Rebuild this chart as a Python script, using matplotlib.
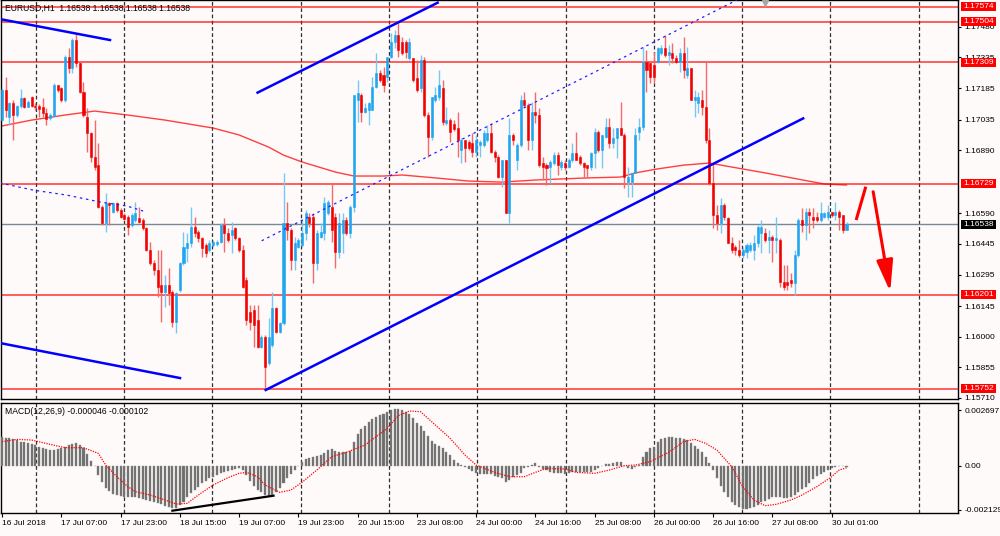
import matplotlib
matplotlib.use('Agg')
import matplotlib.pyplot as plt
import matplotlib.transforms as mtransforms
from matplotlib.patches import Rectangle
import numpy as np

plt.rcParams['font.family'] = ['Liberation Sans', 'DejaVu Sans']

# EURUSD H1 candles, one per bar (bar 0 = 16 Jul 2018)
opens = [1.17034, 1.17177, 1.17049, 1.17115, 1.17058, 1.17101, 1.17139, 1.17096, 1.17144, 1.17101,
         1.17101, 1.17096, 1.17068, 1.17044, 1.17053, 1.17201, 1.17187, 1.17130, 1.17335, 1.17282,
         1.17416, 1.17306, 1.17168, 1.17049, 1.16972, 1.16858, 1.16819, 1.16619, 1.16543, 1.16638,
         1.16595, 1.16638, 1.16605, 1.16581, 1.16572, 1.16533, 1.16557, 1.16567, 1.16557, 1.16519,
         1.16414, 1.16352, 1.16318, 1.16247, 1.16213, 1.16247, 1.16213, 1.16070, 1.16223, 1.16352,
         1.16423, 1.16447, 1.16524, 1.16500, 1.16471, 1.16438, 1.16414, 1.16438, 1.16442, 1.16452,
         1.16533, 1.16495, 1.16485, 1.16519, 1.16471, 1.16414, 1.16271, 1.16118, 1.16127, 1.16080,
         1.15951, 1.15998, 1.15874, 1.15961, 1.16137, 1.16022, 1.16065, 1.16543, 1.16509, 1.16366,
         1.16428, 1.16438, 1.16495, 1.16572, 1.16572, 1.16352, 1.16476, 1.16495, 1.16590, 1.16619,
         1.16572, 1.16404, 1.16495, 1.16557, 1.16495, 1.16619, 1.17130, 1.17154, 1.17072, 1.17082,
         1.17082, 1.17192, 1.17259, 1.17249, 1.17240, 1.17335, 1.17406, 1.17440, 1.17407, 1.17407,
         1.17330, 1.17330, 1.17235, 1.17187, 1.17321, 1.17058, 1.16953, 1.17130, 1.17144, 1.17187,
         1.17020, 1.17034, 1.17015, 1.16996, 1.16891, 1.16939, 1.16929, 1.16924, 1.16882, 1.16915,
         1.16915, 1.16939, 1.16972, 1.16882, 1.16858, 1.16762, 1.16843, 1.16590, 1.16963, 1.16843,
         1.16915, 1.17130, 1.17106, 1.16939, 1.17072, 1.17058, 1.16829, 1.16819, 1.16810, 1.16829,
         1.16867, 1.16810, 1.16829, 1.16810, 1.16843, 1.16877, 1.16858, 1.16829, 1.16819, 1.16810,
         1.16877, 1.16977, 1.16891, 1.16953, 1.17001, 1.16924, 1.16948, 1.16996, 1.16963, 1.16738,
         1.16738, 1.16782, 1.16977, 1.17001, 1.17311, 1.17306, 1.17297, 1.17311, 1.17354, 1.17378,
         1.17345, 1.17354, 1.17330, 1.17311, 1.17354, 1.17249, 1.17282, 1.17130, 1.17115, 1.17130,
         1.17096, 1.16939, 1.16734, 1.16581, 1.16543, 1.16629, 1.16567, 1.16447, 1.16428, 1.16414,
         1.16390, 1.16404, 1.16414, 1.16414, 1.16447, 1.16495, 1.16495, 1.16462, 1.16476, 1.16462,
         1.16462, 1.16261, 1.16261, 1.16271, 1.16256, 1.16390, 1.16557, 1.16533, 1.16595, 1.16572,
         1.16572, 1.16557, 1.16572, 1.16572, 1.16595, 1.16581, 1.16595, 1.16581, 1.16509]
highs = [1.17187, 1.17240, 1.17120, 1.17130, 1.17106, 1.17182, 1.17144, 1.17130, 1.17149, 1.17115,
         1.17110, 1.17139, 1.17092, 1.17068, 1.17211, 1.17201, 1.17192, 1.17345, 1.17378, 1.17426,
         1.17450, 1.17311, 1.17216, 1.17092, 1.16977, 1.17034, 1.16924, 1.16629, 1.16686, 1.16643,
         1.16643, 1.16643, 1.16614, 1.16590, 1.16581, 1.16590, 1.16643, 1.16619, 1.16567, 1.16524,
         1.16452, 1.16366, 1.16414, 1.16414, 1.16294, 1.16328, 1.16223, 1.16213, 1.16356, 1.16500,
         1.16495, 1.16619, 1.16572, 1.16509, 1.16476, 1.16447, 1.16462, 1.16462, 1.16462, 1.16543,
         1.16567, 1.16519, 1.16548, 1.16524, 1.16476, 1.16438, 1.16285, 1.16151, 1.16151, 1.16151,
         1.16008, 1.16008, 1.16089, 1.16213, 1.16142, 1.16070, 1.16782, 1.16643, 1.16519, 1.16476,
         1.16471, 1.16557, 1.16605, 1.16590, 1.16590, 1.16509, 1.16543, 1.16667, 1.16652, 1.16734,
         1.16590, 1.16590, 1.16590, 1.16572, 1.16629, 1.17154, 1.17225, 1.17163, 1.17115, 1.17120,
         1.17240, 1.17354, 1.17273, 1.17287, 1.17335, 1.17450, 1.17464, 1.17507, 1.17430, 1.17416,
         1.17426, 1.17330, 1.17321, 1.17345, 1.17335, 1.17072, 1.17144, 1.17192, 1.17273, 1.17225,
         1.17096, 1.17044, 1.17034, 1.17072, 1.16948, 1.16939, 1.16939, 1.16972, 1.16963, 1.16939,
         1.16987, 1.17010, 1.17020, 1.16891, 1.16867, 1.16843, 1.16843, 1.17044, 1.16972, 1.16924,
         1.17154, 1.17168, 1.17115, 1.17120, 1.17168, 1.17092, 1.16858, 1.16829, 1.16843, 1.16882,
         1.16882, 1.16843, 1.16843, 1.16853, 1.16924, 1.16977, 1.16867, 1.16834, 1.16819, 1.16882,
         1.16996, 1.16987, 1.16963, 1.17044, 1.17044, 1.16996, 1.16996, 1.17120, 1.16972, 1.16810,
         1.16782, 1.16996, 1.17044, 1.17383, 1.17368, 1.17311, 1.17359, 1.17383, 1.17393, 1.17440,
         1.17393, 1.17402, 1.17345, 1.17378, 1.17430, 1.17383, 1.17282, 1.17177, 1.17168, 1.17177,
         1.17311, 1.16996, 1.16829, 1.16629, 1.16662, 1.16638, 1.16572, 1.16476, 1.16438, 1.16462,
         1.16428, 1.16447, 1.16452, 1.16485, 1.16533, 1.16557, 1.16519, 1.16509, 1.16485, 1.16572,
         1.16471, 1.16342, 1.16342, 1.16304, 1.16414, 1.16567, 1.16614, 1.16614, 1.16614, 1.16614,
         1.16595, 1.16643, 1.16595, 1.16629, 1.16595, 1.16643, 1.16605, 1.16581, 1.16548]
lows = [1.17034, 1.17049, 1.17010, 1.16939, 1.17049, 1.17092, 1.17092, 1.17096, 1.17096, 1.17082,
        1.17049, 1.17049, 1.17010, 1.17034, 1.17049, 1.17168, 1.17120, 1.17120, 1.17259, 1.17259,
        1.17287, 1.17163, 1.17049, 1.16882, 1.16834, 1.16796, 1.16614, 1.16533, 1.16500, 1.16533,
        1.16590, 1.16595, 1.16567, 1.16557, 1.16485, 1.16524, 1.16548, 1.16543, 1.16509, 1.16409,
        1.16342, 1.16294, 1.16189, 1.16070, 1.16141, 1.16151, 1.16046, 1.16017, 1.16213, 1.16342,
        1.16356, 1.16428, 1.16476, 1.16452, 1.16380, 1.16380, 1.16404, 1.16428, 1.16433, 1.16447,
        1.16404, 1.16452, 1.16399, 1.16462, 1.16404, 1.16232, 1.16056, 1.16032, 1.15951, 1.15946,
        1.15946, 1.15750, 1.15865, 1.15951, 1.16017, 1.16017, 1.16056, 1.16462, 1.16318, 1.16318,
        1.16423, 1.16428, 1.16462, 1.16524, 1.16256, 1.16318, 1.16471, 1.16462, 1.16581, 1.16452,
        1.16328, 1.16376, 1.16399, 1.16485, 1.16471, 1.16595, 1.17025, 1.17025, 1.17068, 1.17010,
        1.17082, 1.17187, 1.17216, 1.17168, 1.17216, 1.17330, 1.17378, 1.17335, 1.17345, 1.17330,
        1.17321, 1.17216, 1.17168, 1.17168, 1.17049, 1.16858, 1.16939, 1.17120, 1.17130, 1.17010,
        1.17010, 1.16929, 1.16982, 1.16858, 1.16829, 1.16834, 1.16891, 1.16858, 1.16858, 1.16858,
        1.16905, 1.16929, 1.16877, 1.16834, 1.16758, 1.16715, 1.16590, 1.16543, 1.16915, 1.16796,
        1.16905, 1.17096, 1.16891, 1.16891, 1.17020, 1.16810, 1.16748, 1.16724, 1.16734, 1.16819,
        1.16772, 1.16796, 1.16796, 1.16805, 1.16834, 1.16843, 1.16819, 1.16758, 1.16758, 1.16796,
        1.16805, 1.16882, 1.16805, 1.16948, 1.16901, 1.16901, 1.16853, 1.16963, 1.16710, 1.16667,
        1.16667, 1.16782, 1.16939, 1.16987, 1.17168, 1.17211, 1.17211, 1.17306, 1.17345, 1.17335,
        1.17297, 1.17306, 1.17306, 1.17264, 1.17235, 1.17235, 1.17130, 1.17049, 1.17068, 1.17058,
        1.16924, 1.16724, 1.16519, 1.16509, 1.16495, 1.16557, 1.16447, 1.16399, 1.16390, 1.16380,
        1.16376, 1.16376, 1.16404, 1.16366, 1.16428, 1.16399, 1.16452, 1.16399, 1.16356, 1.16399,
        1.16237, 1.16223, 1.16223, 1.16237, 1.16199, 1.16380, 1.16500, 1.16462, 1.16495, 1.16519,
        1.16548, 1.16548, 1.16567, 1.16557, 1.16572, 1.16557, 1.16509, 1.16495, 1.16509]
closes = [1.17177, 1.17082, 1.17115, 1.17058, 1.17101, 1.17139, 1.17096, 1.17120, 1.17101, 1.17096,
          1.17087, 1.17068, 1.17039, 1.17058, 1.17201, 1.17177, 1.17130, 1.17335, 1.17282, 1.17416,
          1.17306, 1.17168, 1.17058, 1.16972, 1.16858, 1.16810, 1.16619, 1.16543, 1.16638, 1.16629,
          1.16638, 1.16605, 1.16572, 1.16562, 1.16524, 1.16581, 1.16590, 1.16548, 1.16519, 1.16414,
          1.16352, 1.16318, 1.16237, 1.16213, 1.16247, 1.16209, 1.16070, 1.16209, 1.16352, 1.16428,
          1.16447, 1.16524, 1.16495, 1.16471, 1.16423, 1.16399, 1.16447, 1.16452, 1.16452, 1.16533,
          1.16495, 1.16462, 1.16509, 1.16471, 1.16414, 1.16237, 1.16080, 1.16070, 1.16056, 1.15951,
          1.15998, 1.15855, 1.15998, 1.16137, 1.16022, 1.16065, 1.16543, 1.16509, 1.16366, 1.16447,
          1.16462, 1.16495, 1.16590, 1.16543, 1.16352, 1.16495, 1.16500, 1.16638, 1.16643, 1.16509,
          1.16404, 1.16543, 1.16557, 1.16495, 1.16619, 1.17154, 1.17163, 1.17072, 1.17092, 1.17115,
          1.17192, 1.17259, 1.17225, 1.17201, 1.17335, 1.17406, 1.17440, 1.17368, 1.17354, 1.17359,
          1.17407, 1.17225, 1.17177, 1.17321, 1.17058, 1.16953, 1.17144, 1.17154, 1.17201, 1.17025,
          1.17034, 1.16977, 1.16991, 1.16939, 1.16939, 1.16900, 1.16900, 1.16882, 1.16939, 1.16929,
          1.16972, 1.16972, 1.16882, 1.16858, 1.16762, 1.16843, 1.16590, 1.16963, 1.16939, 1.16915,
          1.17130, 1.17106, 1.16939, 1.17072, 1.17058, 1.16819, 1.16810, 1.16805, 1.16834, 1.16867,
          1.16819, 1.16834, 1.16810, 1.16843, 1.16877, 1.16843, 1.16829, 1.16810, 1.16805, 1.16877,
          1.16977, 1.16891, 1.16963, 1.17001, 1.16924, 1.16948, 1.16996, 1.16963, 1.16762, 1.16762,
          1.16782, 1.16963, 1.17001, 1.17311, 1.17273, 1.17240, 1.17240, 1.17378, 1.17378, 1.17345,
          1.17359, 1.17330, 1.17311, 1.17354, 1.17273, 1.17282, 1.17130, 1.17144, 1.17144, 1.17096,
          1.16939, 1.16734, 1.16581, 1.16543, 1.16629, 1.16572, 1.16447, 1.16414, 1.16414, 1.16390,
          1.16414, 1.16438, 1.16438, 1.16447, 1.16524, 1.16524, 1.16462, 1.16476, 1.16462, 1.16471,
          1.16261, 1.16237, 1.16247, 1.16256, 1.16390, 1.16557, 1.16533, 1.16595, 1.16581, 1.16557,
          1.16557, 1.16590, 1.16590, 1.16595, 1.16581, 1.16595, 1.16572, 1.16509, 1.16538]

# moving average (red line) sampled along the chart
ma_bars = [0, 8, 17, 25, 34, 44, 57, 64, 72, 76, 81, 90, 95, 103, 108, 117, 126, 135, 144, 158,
           167, 171, 177, 184, 191, 197, 206, 215, 222, 228]
ma_vals = [1.17006, 1.17034, 1.17058, 1.17077, 1.17058, 1.17034, 1.16996, 1.16963, 1.16905, 1.16867,
           1.16834, 1.16786, 1.16767, 1.16767, 1.16772, 1.16758, 1.16743, 1.16738, 1.16748, 1.16758,
           1.16762, 1.16782, 1.16801, 1.16819, 1.16829, 1.16810, 1.16782, 1.16752, 1.16729, 1.16724]

# MACD(12,26,9) main histogram, one per bar
macd_main = [0.001404, 0.001356, 0.001323, 0.001275, 0.001227, 0.001162, 0.001130, 0.001081, 0.001033, 0.001001,
             0.000920, 0.000872, 0.000807, 0.000759, 0.000759, 0.000807, 0.000839, 0.000920, 0.001001, 0.001049,
             0.001081, 0.001001, 0.000839, 0.000549, 0.000226, 0.0, -0.000452, -0.000807, -0.001065, -0.001227,
             -0.001356, -0.001420, -0.001469, -0.001517, -0.001501, -0.001501, -0.001517, -0.001549, -0.001614, -0.001679,
             -0.001711, -0.001743, -0.001824, -0.001872, -0.001937, -0.001985, -0.002034, -0.002034, -0.001905, -0.001743,
             -0.001501, -0.001340, -0.001178, -0.001017, -0.000855, -0.000742, -0.000613, -0.000533, -0.000452, -0.000371,
             -0.000323, -0.000258, -0.000194, -0.000161, -0.000129, -0.000194, -0.000452, -0.000742, -0.000968, -0.001162,
             -0.001291, -0.001420, -0.001453, -0.001420, -0.001291, -0.001097, -0.000855, -0.000613, -0.000420, -0.000210,
             -0.000032, 0.000194, 0.000323, 0.000387, 0.000436, 0.000468, 0.000516, 0.000597, 0.000759, 0.000807,
             0.000710, 0.000678, 0.000646, 0.000646, 0.000710, 0.001130, 0.001517, 0.001775, 0.001937, 0.002098,
             0.002260, 0.002356, 0.002437, 0.002486, 0.002582, 0.002679, 0.002728, 0.002744, 0.002679, 0.002615,
             0.002518, 0.002292, 0.002066, 0.001937, 0.001695, 0.001420, 0.001194, 0.001049, 0.000968, 0.000839,
             0.000678, 0.000500, 0.000291, 0.000129, 0.000032, -0.000048, -0.000161, -0.000258, -0.000355, -0.000420,
             -0.000420, -0.000387, -0.000420, -0.000484, -0.000533, -0.000613, -0.000807, -0.000694, -0.000549, -0.000452,
             -0.000355, -0.000129, -0.000048, 0.000032, 0.000113, -0.000048, -0.000161, -0.000226, -0.000323, -0.000371,
             -0.000371, -0.000371, -0.000404, -0.000371, -0.000323, -0.000323, -0.000323, -0.000323, -0.000323, -0.000291,
             -0.000210, -0.000097, 0.0, 0.000065, 0.000097, 0.000129, 0.000194, 0.000161, 0.0, -0.000097,
             -0.000161, -0.000048, 0.000032, 0.000436, 0.000646, 0.000839, 0.000920, 0.001162, 0.001275, 0.001356,
             0.001372, 0.001372, 0.001356, 0.001323, 0.001307, 0.001243, 0.001114, 0.000952, 0.000791, 0.000646,
             0.000420, 0.000113, -0.000210, -0.000613, -0.000968, -0.001291, -0.001533, -0.001743, -0.001905, -0.002018,
             -0.002082, -0.002098, -0.002066, -0.001985, -0.001888, -0.001775, -0.001695, -0.001598, -0.001533, -0.001501,
             -0.001501, -0.001549, -0.001566, -0.001517, -0.001404, -0.001259, -0.001146, -0.001017, -0.000855, -0.000646,
             -0.000500, -0.000387, -0.000291, -0.000194, -0.000097, -0.000048, -0.000016, -0.000016, -0.000046]

# MACD signal line sampled
signal_bars = [0, 4, 8, 13, 17, 22, 26, 28, 31, 34, 36, 40, 44, 47, 50, 53, 57, 61, 64, 66,
               69, 71, 75, 78, 81, 85, 89, 93, 98, 104, 107, 110, 113, 116, 121, 125, 128, 133, 137, 141,
               144, 147, 152, 155, 160, 164, 168, 171, 175, 180, 184, 187, 190, 193, 197, 200, 203, 206, 209, 213,
               216, 220, 224, 226, 228]
signal_vals = [0.001162, 0.001275, 0.001243, 0.001033, 0.000872, 0.000872, 0.000597, 0.000032, -0.000533, -0.001017,
               -0.001259, -0.001420, -0.001662, -0.001856, -0.001824, -0.001420, -0.000936, -0.000581, -0.000371, -0.000323,
               -0.000533, -0.000936, -0.001291, -0.001178, -0.000807, -0.000210, 0.000436, 0.000646, 0.001001, 0.001808,
               0.002421, 0.002647, 0.002615, 0.002130, 0.001323, 0.000516, 0.000032, -0.000323, -0.000533, -0.000533,
               -0.000323, -0.000129, -0.000161, -0.000323, -0.000371, -0.000210, 0.0, 0.000032, 0.000194, 0.000646,
               0.001162, 0.001275, 0.001081, 0.000759, -0.000048, -0.001017, -0.001662, -0.001937, -0.001872, -0.001662,
               -0.001420, -0.001017, -0.000533, -0.000210, -0.000102]

levels = [1.17574, 1.17504, 1.17309, 1.16729, 1.16201, 1.15752]
last_price = 1.16538
price_ticks = [1.17480, 1.17335, 1.17185, 1.17035, 1.16890, 1.16590, 1.16445,
               1.16295, 1.16145, 1.16000, 1.15855, 1.15710]
time_labels = ['16 Jul 2018', '17 Jul 07:00', '17 Jul 23:00', '18 Jul 15:00', '19 Jul 07:00',
               '19 Jul 23:00', '20 Jul 15:00', '23 Jul 08:00', '24 Jul 00:00', '24 Jul 16:00',
               '25 Jul 08:00', '26 Jul 00:00', '26 Jul 16:00', '27 Jul 08:00', '30 Jul 01:00']
macd_ticks = [0.002697, 0.0, -0.002129]
macd_tick_labels = ['0.002697', '0.00', '-0.002129']

BG = '#FFFAFA'
BULL, BULL_W = '#1FA6F0', '#74C8F4'
BEAR, BEAR_W = '#F00000', '#F46A6A'

fig = plt.figure(figsize=(10, 5.36), dpi=100, facecolor=BG)
W, H = 1000.0, 536.0
ax = fig.add_axes([1 / W, 1 - 399 / H, 957 / W, 399 / H], facecolor=BG)
ax2 = fig.add_axes([1 / W, 1 - 513 / H, 957 / W, 110 / H], facecolor=BG)

x = np.arange(len(closes))
o = np.array(opens); h = np.array(highs); l = np.array(lows); c = np.array(closes)
up = c >= o

xlim = (-0.27, 258.1)
for a in (ax, ax2):
    a.set_xlim(*xlim)
    for s in a.spines.values():
        s.set_color('black')
        s.set_linewidth(1)
    # dashed vertical grid
    for gx in np.arange(9.1, 258, 23.84):
        a.axvline(gx, color='#303030', lw=0.9, dashes=(3, 2), zorder=0.5)

ax.set_ylim(1.15703, 1.17607)

# horizontal levels
for lv in levels:
    ax.axhline(lv, color='#FF0000', lw=1.1, alpha=0.8, zorder=1)
ax.axhline(last_price, color='#7A8896', lw=1, zorder=1)

# moving average
ax.plot(ma_bars, ma_vals, color='#FF0000', lw=1, alpha=0.75, zorder=2)

# candles
ax.vlines(x[up], l[up], h[up], color=BULL_W, lw=1, zorder=3)
ax.vlines(x[~up], l[~up], h[~up], color=BEAR_W, lw=1, zorder=3)
ax.bar(x[up], c[up] - o[up], bottom=o[up], width=0.55, color=BULL, edgecolor=BULL, lw=0.4, zorder=4)
ax.bar(x[~up], o[~up] - c[~up], bottom=c[~up], width=0.55, color=BEAR, edgecolor=BEAR, lw=0.4, zorder=4)

# trend lines
ax.plot([-0.54, 29.16], [1.17516, 1.17416], color='#0000FF', lw=1.8, zorder=5)
ax.plot([-0.54, 48.06], [1.15970, 1.15803], color='#0000FF', lw=1.8, zorder=5)
ax.plot([69.0, 117.6], [1.17165, 1.17594], color='#0000FF', lw=1.8, zorder=5)
ax.plot([71.2, 216.3], [1.15746, 1.17042], color='#0000FF', lw=1.8, zorder=5)
ax.plot([70.1, 198.4], [1.16458, 1.17607], color='#2020FF', lw=0.9, dashes=(2, 3), zorder=5)
ax.plot([-0.54, 8.4, 17.5, 26.5, 33.7, 38.1], [1.16734, 1.16700, 1.16676, 1.16643, 1.16624, 1.16600],
        color='#2020FF', lw=0.9, dashes=(2, 3), zorder=5)

# red arrows
ax.plot([230.6, 233.2], [1.16557, 1.16716], color='#FF0000', lw=2.2, solid_capstyle='butt', zorder=6)
ax.annotate('', xy=(239.8, 1.16215), xytext=(235.2, 1.16692),
            arrowprops=dict(arrowstyle='-|>,head_length=1.9,head_width=0.5', color='#FF0000',
                            lw=2.2, shrinkA=0, shrinkB=0), zorder=6)

# right price axis
ax.yaxis.tick_right()
ax.set_yticks(price_ticks)
ax.set_yticklabels(['%.5f' % t for t in price_ticks])
ax.tick_params(axis='y', length=2.5, width=0.8, pad=2, labelsize=6)
ax.set_xticks([])

tr = mtransforms.blended_transform_factory(ax.transAxes, ax.transData)
box_h = 0.00043
for lv in levels:
    ax.add_patch(Rectangle((1.0031, lv - box_h / 2), 0.0366, box_h, transform=tr, clip_on=False,
                           facecolor='#FF0000', edgecolor='none', zorder=10))
    ax.text(1.0214, lv, '%.5f' % lv, transform=tr, color='white', fontsize=6, ha='center',
            va='center', clip_on=False, zorder=11)
ax.add_patch(Rectangle((1.0031, last_price - box_h / 2), 0.0366, box_h, transform=tr, clip_on=False,
                       facecolor='black', edgecolor='none', zorder=10))
ax.text(1.0214, last_price, '%.5f' % last_price, transform=tr, color='white', fontsize=6,
        ha='center', va='center', clip_on=False, zorder=11)

ax.text(0.004, 0.98, 'EURUSD,H1  1.16538 1.16538 1.16538 1.16538', transform=ax.transAxes,
        fontsize=6.2, va='center', ha='left', color='black', zorder=12)

# chart shift marker
ax.plot([206], [0.992], transform=mtransforms.blended_transform_factory(ax.transData, ax.transAxes),
        marker='v', color='#A8A8A8', ms=5, clip_on=False, zorder=12)

# MACD panel
ax2.set_ylim(-0.002291, 0.003036)
ax2.bar(x, macd_main, width=0.55, color='#6E6E6E', edgecolor='#8A8A8A', lw=0.3, zorder=3)
ax2.plot(signal_bars, signal_vals, color='#FF0000', lw=0.9, dashes=(1, 1), zorder=4)
ax2.plot([46.0, 73.3], [-0.002179, -0.001453], color='black', lw=1.6, zorder=5)
ax2.text(0.004, 0.927, 'MACD(12,26,9) -0.000046 -0.000102', transform=ax2.transAxes,
         fontsize=6.2, va='center', ha='left', color='black')
ax2.yaxis.tick_right()
ax2.set_yticks(macd_ticks)
ax2.set_yticklabels(macd_tick_labels)
ax2.tick_params(axis='y', length=2.5, width=0.8, pad=2, labelsize=6)
ax2.set_xticks(np.arange(0, 16 * len(time_labels), 16))
ax2.set_xticklabels(time_labels, ha='left')
ax2.tick_params(axis='x', length=3, width=0.8, pad=2, labelsize=6)

fig.savefig('out.png', dpi=100, facecolor=BG)
